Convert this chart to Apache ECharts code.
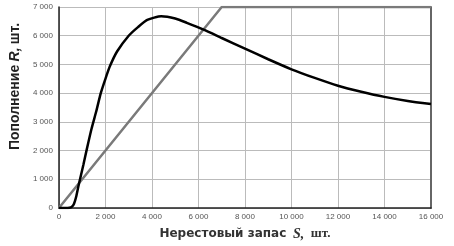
<!DOCTYPE html>
<html>
<head>
<meta charset="utf-8">
<script src="https://cdn.jsdelivr.net/npm/echarts@6/dist/echarts.min.js"></script>
<style>
  html, body { margin: 0; padding: 0; background: #fff; }
  #main { width: 454px; height: 246px; }
</style>
</head>
<body>
<div id="main"></div>
<script>
// Spawning stock S (x) and recruitment R (y) for the stock-recruitment curve
const stockS = [0, 300, 450, 550, 650, 750, 850, 950, 1050, 1200, 1400, 1600, 1800, 2000, 2200, 2500,
  3000, 3400, 3800, 4400, 5000, 5500, 6250, 7000, 8000, 9000, 10000, 11000, 12000, 13000, 14000, 15000, 16000];
const recruitR = [0, 0, 10, 40, 150, 420, 800, 1150, 1500, 2050, 2750, 3350, 4000, 4500, 4950, 5450,
  6000, 6300, 6550, 6680, 6600, 6450, 6200, 5920, 5550, 5180, 4830, 4530, 4260, 4050, 3870, 3730, 3620];

// Replacement line R = S, capped at the top of the axis
const replS = [0, 7000, 16000];
const replR = [0, 7000, 7000];

const xTicks = { min: 0, max: 16000, interval: 2000 };
const yTicks = { min: 0, max: 7000, interval: 1000 };

function fmt(v) {
  return String(v).replace(/\B(?=(\d{3})+(?!\d))/g, ' ');
}

function zip(xs, ys) {
  return xs.map((x, i) => [x, ys[i]]);
}

const chart = echarts.init(document.getElementById('main'));

const option = {
  animation: false,
  grid: { left: 49, right: 23, top: 7, bottom: 31 },
  xAxis: {
    type: 'value',
    min: xTicks.min, max: xTicks.max, interval: xTicks.interval,
    axisLine: { show: true, lineStyle: { color: '#222', width: 1.5 } },
    axisTick: { show: false },
    axisLabel: { formatter: fmt, fontFamily: 'Liberation Sans', fontSize: 8, color: '#555', margin: 5 },
    splitLine: { show: true, lineStyle: { color: '#bbb', width: 1 } },
    name: '{b|Нерестовый запас}  {s|S,}  {t|шт.}',
    nameLocation: 'middle',
    nameGap: 19,
    nameTextStyle: {
      rich: {
        b: { fontFamily: 'DejaVu Sans', fontWeight: 'bold', fontSize: 12, color: '#333' },
        s: { fontFamily: 'Liberation Serif', fontStyle: 'italic', fontWeight: 'bold', fontSize: 14, color: '#333' },
        t: { fontFamily: 'Liberation Serif', fontWeight: 'bold', fontSize: 13, color: '#333' }
      }
    }
  },
  yAxis: [
    {
      type: 'value',
      min: yTicks.min, max: yTicks.max, interval: yTicks.interval,
      axisLine: { show: true, lineStyle: { color: '#222', width: 1.5 } },
      axisTick: { show: false },
      axisLabel: { formatter: fmt, fontFamily: 'Liberation Sans', fontSize: 8, color: '#555', margin: 6 },
      splitLine: { show: true, lineStyle: { color: '#bbb', width: 1 } },
      name: '{b|Пополнение} {r|R,} {b|шт.}',
      nameLocation: 'middle',
      nameGap: 28,
      nameTextStyle: {
        padding: [0, 0, 0, 42],
        rich: {
          b: { fontFamily: 'Liberation Sans', fontWeight: 'bold', fontSize: 14, color: '#222' },
          r: { fontFamily: 'Liberation Sans', fontStyle: 'italic', fontWeight: 'bold', fontSize: 14, color: '#222' }
        }
      }
    },
    {
      type: 'value',
      position: 'right',
      min: yTicks.min, max: yTicks.max, interval: yTicks.interval,
      axisLine: { show: true, lineStyle: { color: '#666', width: 2 } },
      axisTick: { show: false },
      axisLabel: { show: false },
      splitLine: { show: false }
    }
  ],
  series: [
    {
      type: 'line',
      data: zip(replS, replR),
      showSymbol: false,
      lineStyle: { color: '#7a7a7a', width: 2.5 },
      z: 2
    },
    {
      type: 'line',
      data: zip(stockS, recruitR),
      smooth: 0.2,
      showSymbol: false,
      lineStyle: { color: '#000', width: 2.5 },
      z: 3
    }
  ]
};

chart.setOption(option);
</script>
</body>
</html>
